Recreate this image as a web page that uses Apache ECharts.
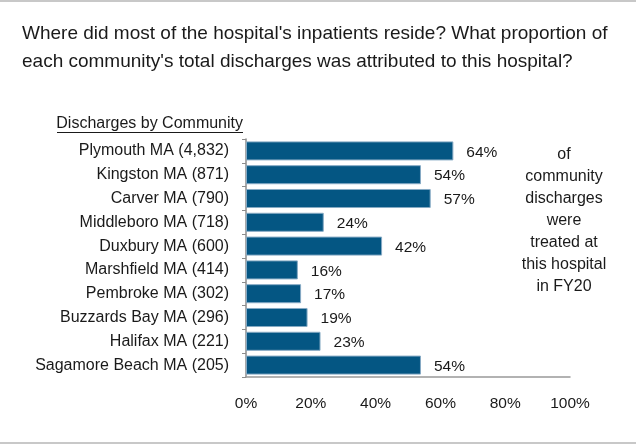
<!DOCTYPE html>
<html>
<head>
<meta charset="utf-8">
<script src="https://cdn.jsdelivr.net/npm/echarts@6/dist/echarts.min.js"></script>
<style>
  html, body { margin: 0; padding: 0; background: #ffffff; }
  #chart { width: 644px; height: 445px; }
</style>
</head>
<body>
<div id="chart"></div>
<script>
// communities, their discharge counts and the hospital's share (%)
var communities = ['Plymouth MA', 'Kingston MA', 'Carver MA', 'Middleboro MA', 'Duxbury MA',
    'Marshfield MA', 'Pembroke MA', 'Buzzards Bay MA', 'Halifax MA', 'Sagamore Beach MA'];
var discharges = [4832, 871, 790, 718, 600, 414, 302, 296, 221, 205];
var shares = [64, 54, 57, 24, 42, 16, 17, 19, 23, 54];
var xTicks = [0, 20, 40, 60, 80, 100];

var FONT = '"Liberation Sans", Arial, sans-serif';
var TXT = '#1a1a1a';

var labels = communities.map(function (c, i) {
    return c + ' (' + discharges[i].toLocaleString('en-US') + ')';
});

var chart = echarts.init(document.getElementById('chart'));

option = {
    backgroundColor: '#ffffff',
    animation: false,
    title: {
        text: "Where did most of the hospital's inpatients reside? What proportion of\neach community's total discharges was attributed to this hospital?",
        left: 22,
        top: 20,
        padding: 0,
        textStyle: {
            fontFamily: FONT,
            fontSize: 19,
            fontWeight: 'normal',
            lineHeight: 28,
            color: TXT
        }
    },
    grid: {
        left: 246,
        right: 74,
        top: 139,
        bottom: 68,
        containLabel: false
    },
    xAxis: {
        type: 'value',
        min: xTicks[0],
        max: xTicks[xTicks.length - 1],
        interval: 20,
        splitLine: { show: false },
        axisTick: { show: false },
        axisLine: { show: true, lineStyle: { color: '#999999', width: 1.5 } },
        axisLabel: {
            formatter: '{value}%',
            margin: 19,
            fontFamily: FONT,
            fontSize: 15.5,
            color: TXT
        }
    },
    yAxis: {
        type: 'category',
        inverse: true,
        data: labels,
        axisLine: { show: true, lineStyle: { color: '#8c8c8c', width: 1.5 } },
        axisTick: { show: true, length: 4, lineStyle: { color: '#8c8c8c' } },
        axisLabel: {
            margin: 17,
            fontFamily: FONT,
            fontSize: 16,
            color: TXT
        }
    },
    series: [{
        type: 'bar',
        data: shares,
        barCategoryGap: '20%',
        itemStyle: {
            color: '#045683',
            borderColor: '#86aac4',
            borderWidth: 1
        },
        label: {
            show: true,
            position: 'right',
            distance: 13,
            offset: [0, 1.5],
            formatter: '{c}%',
            fontFamily: FONT,
            fontSize: 15.5,
            color: TXT
        }
    }],
    graphic: [
        {
            type: 'text',
            right: 644 - 243,
            top: 116,
            style: {
                text: 'Discharges by Community',
                font: '16px ' + FONT,
                fill: TXT
            }
        },
        {
            type: 'line',
            shape: { x1: 57, y1: 132.5, x2: 243, y2: 132.5 },
            style: { stroke: TXT, lineWidth: 1 }
        },
        {
            type: 'text',
            x: 564,
            y: 144,
            style: {
                text: 'of\ncommunity\ndischarges\nwere\ntreated at\nthis hospital\nin FY20',
                font: '16px ' + FONT,
                lineHeight: 22,
                align: 'center',
                fill: TXT
            }
        },
        {
            type: 'line',
            shape: { x1: 0, y1: 1, x2: 636, y2: 1 },
            style: { stroke: '#c8c8c8', lineWidth: 2 }
        },
        {
            type: 'line',
            shape: { x1: 0, y1: 443, x2: 636, y2: 443 },
            style: { stroke: '#c8c8c8', lineWidth: 2 }
        }
    ]
};

chart.setOption(option);
</script>
</body>
</html>
